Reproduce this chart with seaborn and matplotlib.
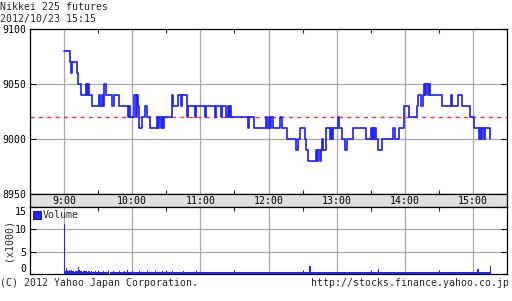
import numpy as np
import pandas as pd
import matplotlib
matplotlib.use("Agg")
import matplotlib.pyplot as plt
from matplotlib.patches import Rectangle
import seaborn as sns

# ---------------- data ----------------
title_text = "Nikkei 225 futures"
stamp_text = "2012/10/23 15:15"
copyright_text = "(C) 2012 Yahoo Japan Corporation."
url_text = "http://stocks.finance.yahoo.co.jp"
volume_label = "Volume"
volume_unit = "(x1000)"
prev_close = 9020
price_ticks = [8950, 9000, 9050, 9100]
volume_ticks = [0, 5, 10, 15]
hour_labels = ["9:00", "10:00", "11:00", "12:00", "13:00", "14:00", "15:00"]

# price change points (time, price) -- step chart
change_times = [
    "9:00", "9:05", "9:06", "9:07", "9:11", "9:12", "9:15", "9:19", "9:20", "9:21",
    "9:22", "9:25", "9:31", "9:32", "9:33", "9:34", "9:35", "9:37", "9:42", "9:44",
    "9:48", "9:56", "9:57", "9:58", "10:02", "10:03", "10:04", "10:05", "10:06", "10:09",
    "10:11", "10:13", "10:16", "10:22", "10:23", "10:24", "10:25", "10:26", "10:27", "10:28",
    "10:35", "10:36", "10:40", "10:43", "10:44", "10:48", "10:49", "10:55", "10:56", "11:04",
    "11:05", "11:13", "11:14", "11:18", "11:19", "11:23", "11:24", "11:25", "11:26", "11:27",
    "11:42", "11:43", "11:47", "11:58", "11:59", "12:00", "12:01", "12:02", "12:04", "12:10",
    "12:12", "12:16", "12:24", "12:26", "12:28", "12:32", "12:33", "12:35", "12:42", "12:43",
    "12:44", "12:45", "12:46", "12:47", "12:48", "12:51", "12:54", "12:55", "12:56", "12:57",
    "13:01", "13:02", "13:05", "13:07", "13:09", "13:14", "13:26", "13:30", "13:31", "13:32",
    "13:33", "13:34", "13:35", "13:36", "13:40", "13:50", "13:51", "13:55", "13:59", "14:04",
    "14:11", "14:12", "14:14", "14:16", "14:17", "14:18", "14:19", "14:20", "14:21", "14:22",
    "14:33", "14:41", "14:42", "14:47", "14:50", "14:57", "15:01", "15:05", "15:06", "15:07",
    "15:08", "15:10", "15:11", "15:15",
]
change_prices = [
    9080, 9070, 9060, 9070, 9060, 9050, 9040, 9050, 9040, 9050,
    9040, 9030, 9040, 9030, 9040, 9030, 9050, 9040, 9030, 9040,
    9030, 9020, 9030, 9020, 9040, 9020, 9040, 9030, 9010, 9020,
    9030, 9020, 9010, 9020, 9010, 9020, 9010, 9020, 9010, 9020,
    9040, 9030, 9040, 9030, 9040, 9020, 9030, 9020, 9030, 9020,
    9030, 9020, 9030, 9020, 9030, 9020, 9030, 9020, 9030, 9020,
    9010, 9020, 9010, 9020, 9010, 9020, 9010, 9020, 9010, 9020,
    9010, 9000, 8990, 9000, 9010, 9000, 8990, 8980, 8990, 8980,
    8990, 8980, 8990, 9000, 8990, 9010, 9000, 9010, 9000, 9010,
    9020, 9010, 9000, 8990, 9000, 9010, 9000, 9010, 9000, 9010,
    9000, 9010, 9000, 8990, 9000, 9010, 9000, 9010, 9030, 9020,
    9030, 9040, 9030, 9040, 9050, 9040, 9050, 9040, 9050, 9040,
    9030, 9040, 9030, 9040, 9030, 9020, 9010, 9000, 9010, 9000,
    9010, 9000, 9010, 9000,
]

# per-minute volume from 9:00 to 15:15 (thousands)
volume = [
    11.1, 0.6, 1.4, 0.7, 0.9, 0.6, 0.8, 0.7, 0.6, 0.5, 0.6, 0.7, 1.6, 0.8, 0.6, 0.7, 0.5, 0.6, 0.7, 0.6,
    0.5, 0.6, 0.7, 0.5, 0.6, 0.5, 0.5, 0.6, 0.5, 0.5, 0.6, 0.5, 0.5, 0.5, 0.6, 0.5, 0.5, 0.5, 0.5, 0.6,
    0.5, 0.5, 0.5, 0.6, 0.5, 0.5, 0.5, 0.5, 0.6, 0.5, 0.5, 0.5, 0.5, 0.6, 0.5, 0.9, 0.5, 0.5, 0.5, 0.5,
    0.6, 0.5, 0.5, 0.5, 0.5, 0.5, 0.6, 0.5, 0.5, 0.5, 0.5, 0.5, 0.5, 0.6, 0.5, 0.5, 0.5, 0.5, 0.5, 0.5,
    0.6, 0.5, 0.5, 0.5, 0.5, 0.5, 0.6, 0.5, 0.5, 0.5, 0.5, 0.5, 0.5, 0.5, 0.5, 0.6, 0.5, 0.5, 0.5, 0.5,
    0.5, 0.5, 0.5, 0.5, 0.5, 0.6, 0.5, 0.5, 0.5, 0.5, 0.5, 0.5, 0.5, 0.5, 0.5, 0.5, 0.6, 0.5, 0.5, 0.5,
    0.5, 0.5, 0.5, 0.5, 0.5, 0.5, 0.5, 0.5, 0.5, 0.5, 0.4, 0.5, 0.5, 0.4, 0.5, 0.5, 0.4, 0.5, 0.5, 0.4,
    0.5, 0.4, 0.4, 0.5, 0.4, 0.5, 0.4, 0.4, 0.5, 0.4, 0.5, 0.4, 0.4, 0.5, 0.4, 0.5, 0.4, 0.4, 0.5, 0.4,
    0.4, 0.5, 0.4, 0.4, 0.5, 0.4, 0.4, 0.5, 0.4, 0.4, 0.5, 0.4, 0.4, 0.5, 0.4, 0.4, 0.5, 0.4, 0.4, 0.5,
    0.4, 0.4, 0.5, 0.4, 0.4, 0.5, 0.4, 0.4, 0.5, 0.4, 0.4, 0.5, 0.4, 0.4, 0.5, 0.4, 0.4, 0.5, 0.4, 0.4,
    0.5, 0.4, 0.4, 0.5, 0.4, 0.4, 0.5, 0.4, 0.4, 0.5, 0.4, 0.4, 0.5, 0.4, 0.4, 0.5, 1.9, 0.5, 0.4, 0.5,
    0.4, 0.5, 0.4, 0.4, 0.5, 0.4, 0.5, 0.4, 0.4, 0.5, 0.4, 0.5, 0.4, 0.4, 0.5, 0.4, 0.5, 0.4, 0.4, 0.5,
    0.4, 0.5, 0.4, 0.4, 0.5, 0.4, 0.5, 0.4, 0.4, 0.5, 0.4, 0.5, 0.4, 0.4, 0.5, 0.4, 0.5, 0.4, 0.4, 0.5,
    0.5, 0.4, 0.5, 0.4, 0.5, 0.4, 0.5, 0.4, 0.5, 0.4, 0.5, 0.4, 0.5, 0.4, 0.5, 0.4, 1.1, 0.5, 0.4, 0.5,
    0.5, 0.4, 0.5, 0.4, 0.5, 0.4, 0.5, 0.4, 0.5, 0.4, 0.5, 0.4, 0.5, 0.4, 0.5, 0.4, 0.5, 0.4, 0.5, 0.4,
    0.5, 0.4, 0.5, 0.4, 0.5, 0.4, 0.5, 0.4, 0.5, 0.4, 0.5, 0.4, 0.5, 0.4, 0.5, 0.4, 0.5, 0.4, 0.5, 0.4,
    0.5, 0.5, 0.4, 0.5, 0.5, 0.4, 0.5, 0.5, 0.4, 0.5, 0.5, 0.4, 0.5, 0.5, 0.4, 0.5, 0.5, 0.4, 0.5, 0.5,
    0.5, 0.5, 0.4, 0.5, 0.5, 0.4, 0.5, 0.5, 0.4, 0.5, 0.5, 0.4, 0.5, 0.5, 0.4, 0.5, 0.5, 0.4, 0.5, 0.5,
    0.5, 0.4, 0.5, 0.5, 1.1, 0.5, 0.4, 0.5, 0.5, 0.4, 0.5, 0.5, 0.4, 0.5, 0.5, 1.9,
]

# ---------------- style ----------------
sns.set_theme(style="white")
plt.rcParams["font.family"] = ["DejaVu Sans Mono"]
FS = 7.1
BLUE = "#2424ff"
GRID = "#a8a8a8"


def to_hours(t):
    h, m = t.split(":")
    return int(h) + int(m) / 60.0


price_df = pd.DataFrame({"t": [to_hours(t) for t in change_times], "price": change_prices})
vol_df = pd.DataFrame({"t": [9 + i / 60.0 for i in range(len(volume))], "vol": volume})
hours = [to_hours(h) for h in hour_labels]
half_hours = [h - 0.5 for h in hours] + [hours[-1] + 0.5]
half_hours = [h for h in half_hours if 8.5 < h < 15.5]

W, H = 512, 301
fig = plt.figure(figsize=(W / 100, H / 100), dpi=100)


def rect(l, t, r, b):
    return [l / W, 1 - b / H, (r - l) / W, (b - t) / H]


ax1 = fig.add_axes(rect(30, 29, 507, 194))
axb = fig.add_axes(rect(30, 194, 507, 207))
ax2 = fig.add_axes(rect(30, 207, 507, 274))

XL = (8.5, 15.5)

# ---- price panel ----
for h in hours:
    ax1.axvline(h, color=GRID, lw=0.9, zorder=0)
for p in price_ticks[1:-1]:
    ax1.axhline(p, color=GRID, lw=0.9, zorder=0)
ax1.axhline(prev_close, color="#ff3030", lw=1.0, ls=(0, (3, 3)), zorder=1)
sns.lineplot(data=price_df, x="t", y="price", drawstyle="steps-post", color=BLUE,
             lw=1.25, estimator=None, sort=False, ax=ax1, zorder=3)
ax1.set_xlim(*XL)
ax1.set_ylim(price_ticks[0], price_ticks[-1])
ax1.set_yticks(price_ticks)
ax1.set_yticklabels([str(p) for p in price_ticks])
ax1.set_xticks(half_hours)
ax1.set_xticklabels([])
ax1.tick_params(axis="y", direction="in", left=True, right=True, length=4, width=0.8,
                labelsize=FS, pad=2.5, colors="black")
ax1.tick_params(axis="x", direction="in", top=True, bottom=True, length=3, width=0.8)
ax1.set_xlabel("")
ax1.set_ylabel("")

# ---- time band ----
axb.set_facecolor("#e0e0e0")
axb.set_xlim(*XL)
axb.set_ylim(0, 1)
axb.set_xticks([])
axb.set_yticks([])
for h, lab in zip(hours, hour_labels):
    axb.text(h, 0.45, lab, ha="center", va="center", fontsize=FS, color="black")

# ---- volume panel ----
for h in hours:
    ax2.axvline(h, color=GRID, lw=0.9, zorder=0)
for v in volume_ticks[1:-1]:
    ax2.axhline(v, color=GRID, lw=0.9, zorder=0)
edges = [9 + i / 60.0 for i in range(len(volume) + 1)]
sns.histplot(data=vol_df, x="t", weights="vol", bins=edges, color=BLUE, alpha=1,
             element="bars", linewidth=0, edgecolor=None, ax=ax2, zorder=3)
ax2.set_xlim(*XL)
ax2.set_ylim(volume_ticks[0], volume_ticks[-1])
ax2.set_yticks(volume_ticks)
ax2.set_yticklabels([str(v) for v in volume_ticks])
vlabels = ax2.get_yticklabels()
vlabels[0].set_va("bottom")
vlabels[-1].set_va("top")
ax2.set_xticks(half_hours)
ax2.set_xticklabels([])
ax2.tick_params(axis="y", direction="in", left=True, right=True, length=4, width=0.8,
                labelsize=FS, pad=2.5, colors="black")
ax2.tick_params(axis="x", direction="in", top=True, bottom=True, length=3, width=0.8)
ax2.set_xlabel("")
ax2.set_ylabel("")
handle = Rectangle((0, 0), 1, 1, facecolor=BLUE, edgecolor="#000080", lw=0.6)
ax2.legend([handle], [volume_label], loc="upper left", frameon=False, fontsize=FS,
           handlelength=0.75, handleheight=0.75, handletextpad=0.2,
           borderaxespad=0.15, borderpad=0.2)

for ax in (ax1, axb, ax2):
    for s in ax.spines.values():
        s.set_visible(True)
        s.set_color("black")
        s.set_linewidth(0.9)

# ---- texts ----
fig.text(0 / W, 1 - 6.5 / H, title_text, ha="left", va="center", fontsize=FS)
fig.text(0 / W, 1 - 19 / H, stamp_text, ha="left", va="center", fontsize=FS)
fig.text(8.5 / W, 1 - 240 / H, volume_unit, ha="center", va="center", rotation=90, fontsize=FS)
fig.text(0 / W, 1 - 283 / H, copyright_text, ha="left", va="center", fontsize=FS)
fig.text(509 / W, 1 - 283 / H, url_text, ha="right", va="center", fontsize=FS)

fig.savefig("out.png", dpi=100, facecolor="white")
